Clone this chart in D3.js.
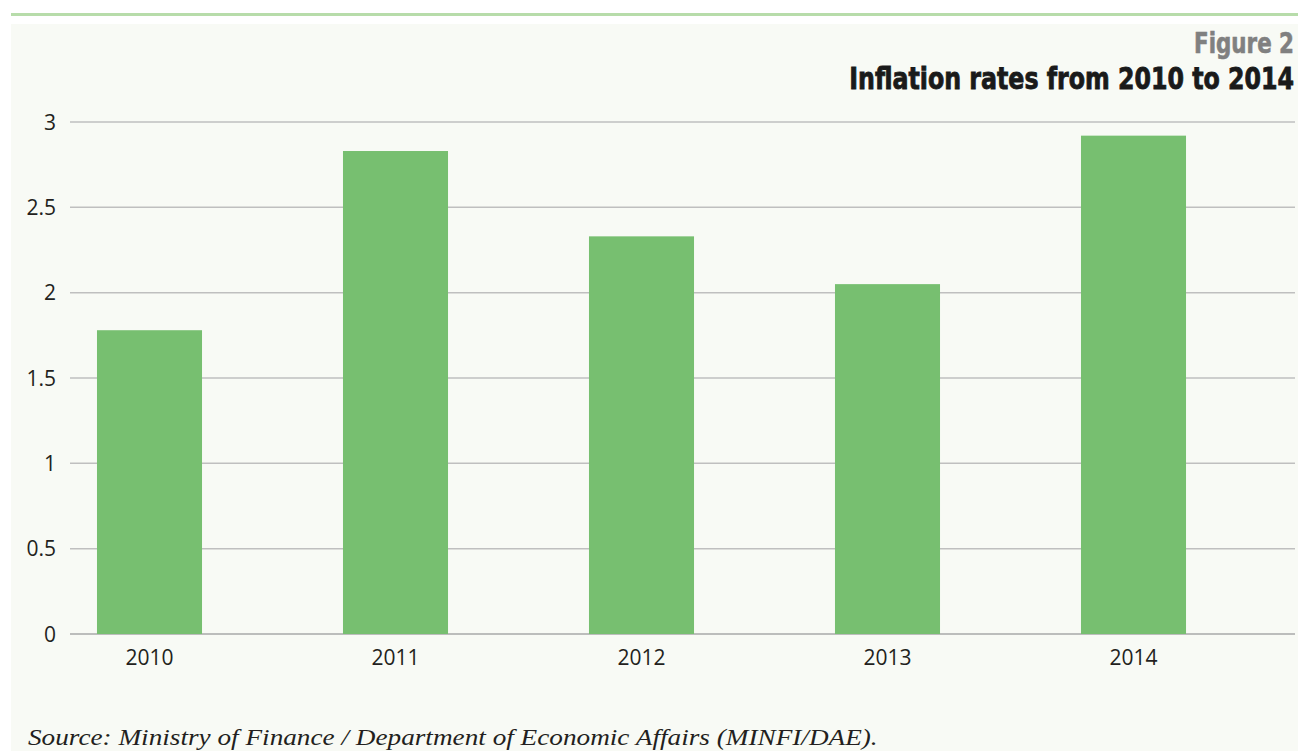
<!DOCTYPE html>
<html>
<head>
<meta charset="utf-8">
<script src="https://cdn.jsdelivr.net/npm/d3@7"></script>
<style>
  html, body { margin: 0; padding: 0; background: #ffffff; }
  svg { display: block; }
</style>
</head>
<body>
<svg width="1298" height="751"></svg>
<script>
// Chart data
const years = ["2010", "2011", "2012", "2013", "2014"];
const inflation = [1.78, 2.83, 2.33, 2.05, 2.92];
const yTicks = [0, 0.5, 1, 1.5, 2, 2.5, 3];

const svg = d3.select("svg"),
    width = +svg.attr("width"),
    height = +svg.attr("height");

// squeeze/stretch a text horizontally so it spans w pixels, anchored at ax
function fitWidth(sel, w, ax) {
    const n = sel.node().getComputedTextLength();
    const s = w / n;
    sel.attr("transform", `translate(${ax},0) scale(${s},1) translate(${-ax},0)`);
}

// panel background + green rule on top
svg.append("rect")
    .attr("x", 11).attr("y", 24)
    .attr("width", width - 11).attr("height", height - 24)
    .attr("fill", "#f8faf5");

svg.append("line")
    .attr("x1", 11).attr("x2", width)
    .attr("y1", 14.5).attr("y2", 14.5)
    .attr("stroke", "#b7dcaa")
    .attr("stroke-width", 3);

// titles
const titleFont = "'DejaVu Sans Condensed', 'Liberation Sans Narrow', 'Roboto', sans-serif";

const fig = svg.append("text")
    .attr("x", 1294).attr("y", 53)
    .attr("text-anchor", "end")
    .attr("font-family", titleFont)
    .attr("font-stretch", "condensed")
    .attr("font-weight", "bold")
    .attr("font-size", 29)
    .attr("fill", "#808080")
    .attr("stroke", "#808080")
    .attr("stroke-width", 0.6)
    .text("Figure 2");
fitWidth(fig, 100, 1294);

const title = svg.append("text")
    .attr("x", 1294).attr("y", 89)
    .attr("text-anchor", "end")
    .attr("font-family", titleFont)
    .attr("font-stretch", "condensed")
    .attr("font-weight", "bold")
    .attr("font-size", 30)
    .attr("fill", "#1a1a1a")
    .attr("stroke", "#1a1a1a")
    .attr("stroke-width", 0.8)
    .text("Inflation rates from 2010 to 2014");
fitWidth(title, 445, 1294);

// scales
const x = d3.scaleBand()
    .domain(years)
    .range([26.5, 1256.5])   // bars sit a bit left of the plot area, like the original
    .paddingInner(0.573)
    .paddingOuter(0.2865);

const y = d3.scaleLinear()
    .domain([0, 3])
    .range([634, 122]);

// gridlines
svg.append("g")
    .selectAll("line")
    .data(yTicks)
    .enter()
    .append("line")
    .attr("x1", 70).attr("x2", 1295)
    .attr("y1", d => y(d)).attr("y2", d => y(d))
    .attr("stroke", d => d === 0 ? "#a9a9a9" : "#bfbfbf")
    .attr("stroke-width", 1.5);

// y tick labels
svg.append("g")
    .selectAll("text")
    .data(yTicks)
    .enter()
    .append("text")
    .attr("x", 56)
    .attr("y", d => y(d))
    .attr("dy", "0.36em")
    .attr("text-anchor", "end")
    .attr("font-family", "'Open Sans', sans-serif")
    .attr("font-size", 21)
    .attr("fill", "#231f20")
    .text(d => d);

// bars
svg.append("g")
    .selectAll("rect")
    .data(inflation)
    .enter()
    .append("rect")
    .attr("x", (d, i) => x(years[i]))
    .attr("y", d => y(d))
    .attr("width", x.bandwidth())
    .attr("height", d => y(0) - y(d))
    .attr("fill", "#77bf70");

// x labels
svg.append("g")
    .selectAll("text")
    .data(years)
    .enter()
    .append("text")
    .attr("x", d => x(d) + x.bandwidth() / 2)
    .attr("y", 665)
    .attr("text-anchor", "middle")
    .attr("font-family", "'Open Sans', sans-serif")
    .attr("font-size", 21)
    .attr("fill", "#231f20")
    .text(d => d);

// source note
const src = svg.append("text")
    .attr("x", 28).attr("y", 745)
    .attr("font-family", "'Liberation Serif', serif")
    .attr("font-style", "italic")
    .attr("font-size", 24)
    .attr("fill", "#231f20")
    .text("Source: Ministry of Finance / Department of Economic Affairs (MINFI/DAE).");
fitWidth(src, 850, 28);
</script>
</body>
</html>
